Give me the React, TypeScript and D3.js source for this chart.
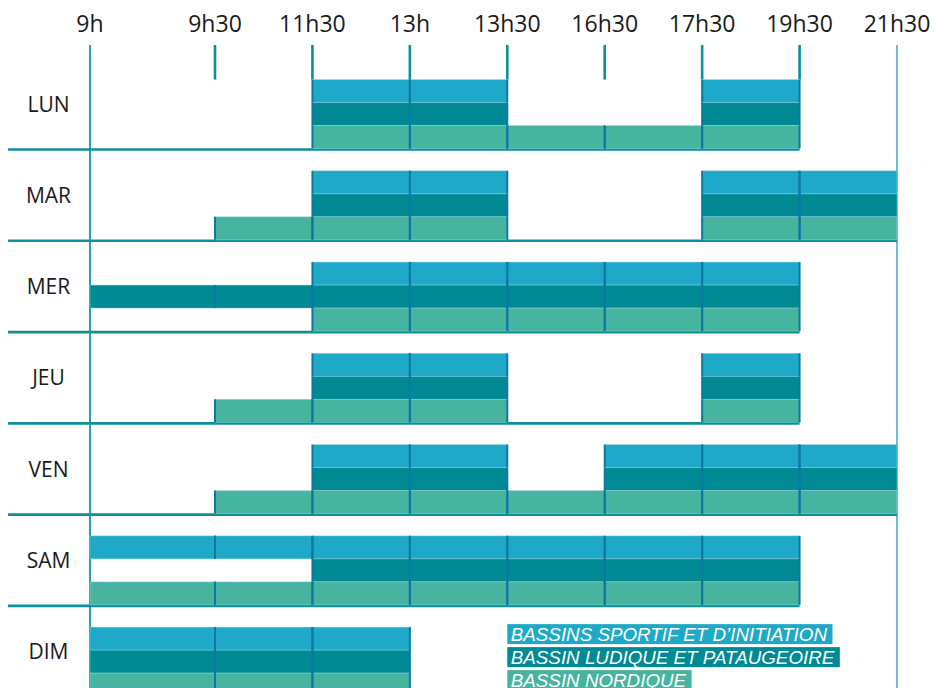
import React, { useLayoutEffect, useRef, useState } from "react";
import * as d3 from "d3";

const days = ["LUN", "MAR", "MER", "JEU", "VEN", "SAM", "DIM"];
const timeTicks = ["9h", "9h30", "11h30", "13h", "13h30", "16h30", "17h30", "19h30", "21h30"];
const pools = [
  "BASSINS SPORTIF ET D’INITIATION",
  "BASSIN LUDIQUE ET PATAUGEOIRE",
  "BASSIN NORDIQUE",
];
// open slots (slot i = between timeTicks[i] and timeTicks[i+1]) per day
const sportifSlots = [[2, 3, 6], [2, 3, 6, 7], [2, 3, 4, 5, 6], [2, 3, 6], [2, 3, 5, 6, 7], [0, 1, 2, 3, 4, 5, 6], [0, 1, 2]];
const ludiqueSlots = [[2, 3, 6], [2, 3, 6, 7], [0, 1, 2, 3, 4, 5, 6], [2, 3, 6], [2, 3, 5, 6, 7], [2, 3, 4, 5, 6], [0, 1, 2]];
const nordiqueSlots = [[2, 3, 4, 5, 6], [1, 2, 3, 6, 7], [2, 3, 4, 5, 6], [1, 2, 3, 6], [1, 2, 3, 4, 5, 6, 7], [0, 1, 2, 3, 4, 5, 6], [0, 1, 2]];
const poolColors = ["#1fa9c9", "#018a94", "#47b4a0"];

export default function App() {
  const W = 937, H = 688;
  const lastIdx = timeTicks.length - 1;
  const x = d3.scaleLinear().domain([0, 1, lastIdx]).range([90, 215, 897]);
  const y = d3.scaleBand<string>().domain(days).range([57.3, 57.3 + 91.26 * days.length]);
  const laneH = 23;
  const bandEnd = (d: string) => (y(d) as number) + y.bandwidth();
  const laneTop = (d: string, lane: number) => bandEnd(d) - laneH * (3 - lane);
  const allSlots = [sportifSlots, ludiqueSlots, nordiqueSlots];

  const legendRefs = useRef<(SVGTextElement | null)[]>([]);
  const [legendW, setLegendW] = useState<number[]>([0, 0, 0]);
  useLayoutEffect(() => {
    setLegendW(legendRefs.current.map((t) => (t ? t.getComputedTextLength() : 0)));
  }, []);

  const tickTop = 45;
  const tickBottom = laneTop(days[0], 0);
  const lineColor = "#0d8f9a";
  const cellEdge = "#0a79a6";

  return (
    <svg width={W} height={H} style={{ position: "absolute", left: 0, top: 0, background: "#fff" }}>
      {/* header labels */}
      {timeTicks.map((t, i) => (
        <text key={t} x={x(i)} y={32} textAnchor="middle" fontFamily="'Open Sans', sans-serif" fontSize={23} fill="#1a1a1a">
          {t}
        </text>
      ))}
      {/* 9h and 21h30 full lines */}
      <line x1={x(0)} x2={x(0)} y1={tickTop} y2={H} stroke="#1597a3" strokeWidth={1.8} />
      <line x1={x(lastIdx)} x2={x(lastIdx)} y1={tickTop} y2={H} stroke="#5fb9c6" strokeWidth={1.8} />
      {/* short header ticks */}
      {timeTicks.slice(1, lastIdx).map((t, k) => (
        <line key={t} x1={x(k + 1)} x2={x(k + 1)} y1={tickTop} y2={tickBottom} stroke={lineColor} strokeWidth={2.6} />
      ))}
      {/* rows */}
      {days.map((d, di) => {
        const maxSlot = d3.max(allSlots, (s) => d3.max(s[di]) as number) as number;
        return (
          <g key={d}>
            <text x={48.5} y={bandEnd(d) - 37} textAnchor="middle" fontFamily="'Open Sans', sans-serif" fontSize={21} fill="#1a1a1a">
              {d}
            </text>
            {di < days.length - 1 && (
              <line x1={8} x2={x(maxSlot + 1)} y1={bandEnd(d) + 1} y2={bandEnd(d) + 1} stroke={lineColor} strokeWidth={2.6} />
            )}
            {allSlots.map((slots, lane) =>
              slots[di].map((s) => (
                <rect
                  key={`${lane}-${s}`}
                  x={x(s)}
                  y={laneTop(d, lane)}
                  width={x(s + 1) - x(s)}
                  height={laneH}
                  fill={poolColors[lane]}
                  stroke="#8fd3dc"
                  strokeOpacity={0.55}
                  strokeWidth={0.8}
                />
              ))
            )}
            {allSlots.map((slots, lane) =>
              slots[di].flatMap((s) =>
                [s, s + 1]
                  .filter((e) => e > 0 && e < lastIdx)
                  .map((e) => (
                    <line
                      key={`e${lane}-${s}-${e}`}
                      x1={x(e)}
                      x2={x(e)}
                      y1={laneTop(d, lane)}
                      y2={laneTop(d, lane) + laneH}
                      stroke={cellEdge}
                      strokeWidth={2}
                    />
                  ))
              )
            )}
          </g>
        );
      })}
      {/* legend */}
      {pools.map((p, i) => {
        const top = laneTop(days[days.length - 1], i) - 3;
        return (
          <g key={p}>
            <rect x={x(4)} y={top} width={legendW[i] ? legendW[i] + 9 : 0} height={20} fill={poolColors[i]} />
            <text
              ref={(el) => { legendRefs.current[i] = el; }}
              x={x(4) + 3.5}
              y={top + 17}
              fontFamily="'Liberation Sans', Arial, sans-serif"
              fontStyle="italic"
              fontSize={18.8}
              fill="#ffffff"
            >
              {p}
            </text>
          </g>
        );
      })}
    </svg>
  );
}
